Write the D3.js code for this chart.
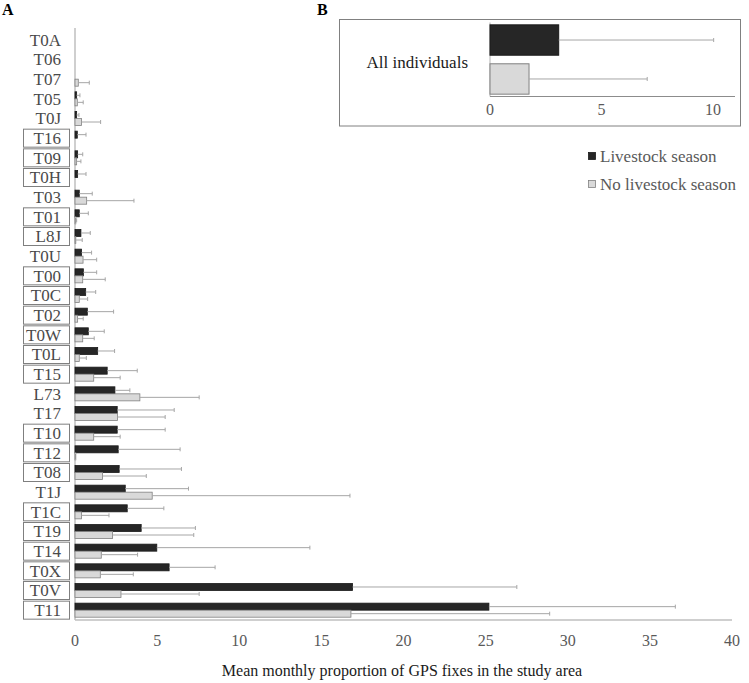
<!DOCTYPE html>
<html>
<head>
<meta charset="utf-8">
<script src="https://cdn.jsdelivr.net/npm/d3@7"></script>
<style>
  body { margin: 0; background: #fff; }
  svg { display: block; font-family: "Liberation Serif", "Times New Roman", serif; }
</style>
</head>
<body>
<svg id="chart" width="749" height="683"></svg>
<script>
// individuals, top to bottom
const ids = ['T0A','T06','T07','T05','T0J','T16','T09','T0H','T03','T01','L8J','T0U','T00','T0C','T02',
  'T0W','T0L','T15','L73','T17','T10','T12','T08','T1J','T1C','T19','T14','T0X','T0V','T11'];
const boxed = ['T16','T09','T0H','T01','L8J','T00','T0C','T02','T0W','T0L','T15','T10','T12','T08',
  'T1C','T19','T14','T0X','T0V','T11'];
const livestock = [0,0,0,0.1,0.1,0.14,0.16,0.16,0.26,0.26,0.36,0.4,0.51,0.65,0.75,
  0.81,1.38,1.96,2.43,2.57,2.57,2.63,2.69,3.06,3.18,4.03,4.98,5.73,16.9,25.2];
const livestockSD = [0,0,0,0.2,0.14,0.53,0.31,0.51,0.79,0.55,0.57,0.61,0.81,0.61,1.6,
  0.97,1.03,1.83,0.91,3.47,2.92,3.77,3.79,3.85,2.23,3.3,9.32,2.8,10.0,11.35];
const noLivestock = [0,0,0.2,0.14,0.4,0,0.1,0,0.71,0.05,0.05,0.49,0.47,0.26,0.16,
  0.47,0.26,1.14,3.95,2.59,1.14,0.05,1.68,4.7,0.4,2.29,1.6,1.54,2.8,16.8];
const noLivestockSD = [0,0,0.67,0.36,1.16,0,0.26,0,2.88,0.05,0.39,0.83,1.37,0.51,0.34,
  0.7,0.43,1.61,3.61,2.9,1.61,0,2.66,12.04,1.67,4.94,2.21,2.01,4.76,12.1];
const xTicks = [0,5,10,15,20,25,30,35,40];

// panel B
const allMeans = [3.08, 1.75];
const allSD = [6.95, 5.3];
const insetTicks = [0,5,10];

const seriesKeys = ['Livestock season', 'No livestock season'];
const fills = ['#262626', '#d9d9d9'];
const strokes = ['#1a1a1a', '#808080'];
const errColor = '#a6a6a6';
const axisColor = '#bfbfbf';

const svg = d3.select('#chart');

const rows = ids.map((id, i) => ({
  id,
  vals: [
    { k: seriesKeys[0], v: livestock[i], sd: livestockSD[i] },
    { k: seriesKeys[1], v: noLivestock[i], sd: noLivestockSD[i] }
  ]
}));

// ---- panel A ----
const x = d3.scaleLinear().domain([0, 40]).range([75, 732]);
const y = d3.scaleBand().domain(ids).range([30, 620]);
const ySub = d3.scaleBand().domain(seriesKeys).range([0, y.bandwidth()]).paddingOuter(0.4);

svg.append('line')
  .attr('x1', x(0)).attr('x2', x(0)).attr('y1', 28).attr('y2', 620)
  .attr('stroke', axisColor).attr('stroke-width', 1.5);
svg.append('line')
  .attr('x1', x(0)).attr('x2', x(40)).attr('y1', 620).attr('y2', 620)
  .attr('stroke', axisColor).attr('stroke-width', 1.5);

const groups = svg.selectAll('g.row')
  .data(rows)
  .join('g')
  .attr('class', 'row')
  .attr('transform', d => `translate(0,${y(d.id)})`);

groups.selectAll('rect.bar')
  .data(d => d.vals.filter(v => v.v > 0))
  .join('rect')
  .attr('class', 'bar')
  .attr('x', x(0))
  .attr('y', d => ySub(d.k))
  .attr('width', d => x(d.v) - x(0))
  .attr('height', ySub.bandwidth())
  .attr('fill', d => fills[seriesKeys.indexOf(d.k)])
  .attr('stroke', d => strokes[seriesKeys.indexOf(d.k)])
  .attr('stroke-width', 0.8);

const errs = groups.selectAll('g.err')
  .data(d => d.vals.filter(v => v.sd > 0))
  .join('g')
  .attr('class', 'err')
  .attr('transform', d => `translate(0,${ySub(d.k) + ySub.bandwidth() / 2})`);
errs.append('line')
  .attr('x1', d => x(d.v)).attr('x2', d => x(d.v + d.sd))
  .attr('stroke', errColor).attr('stroke-width', 1);
errs.append('line')
  .attr('x1', d => x(d.v + d.sd)).attr('x2', d => x(d.v + d.sd))
  .attr('y1', -2).attr('y2', 2)
  .attr('stroke', errColor).attr('stroke-width', 1);

// category labels, some boxed
groups.filter(d => boxed.includes(d.id))
  .append('rect')
  .attr('x', 23.5).attr('y', y.bandwidth() / 2 - 9)
  .attr('width', 46).attr('height', 18)
  .attr('fill', 'none').attr('stroke', '#7f7f7f').attr('stroke-width', 1);
groups.append('text')
  .attr('x', 61).attr('y', y.bandwidth() / 2)
  .attr('dy', '0.35em')
  .attr('text-anchor', 'end')
  .attr('font-size', 17)
  .attr('fill', '#4a4a4a')
  .text(d => d.id);

svg.selectAll('text.xtick')
  .data(xTicks)
  .join('text')
  .attr('class', 'xtick')
  .attr('x', d => x(d)).attr('y', 640).attr('dy', '0.35em')
  .attr('text-anchor', 'middle')
  .attr('font-size', 16).attr('fill', '#595959')
  .text(d => d);

svg.append('text')
  .attr('x', 402).attr('y', 670).attr('dy', '0.35em')
  .attr('text-anchor', 'middle')
  .attr('font-size', 16).attr('fill', '#1a1a1a')
  .text('Mean monthly proportion of GPS fixes in the study area');

// legend
const legend = svg.selectAll('g.legend')
  .data(seriesKeys)
  .join('g')
  .attr('class', 'legend')
  .attr('transform', (d, i) => `translate(588,${156 + i * 28})`);
legend.append('rect')
  .attr('x', 0.5).attr('y', -3.5).attr('width', 7).attr('height', 7)
  .attr('fill', (d, i) => fills[i]).attr('stroke', (d, i) => strokes[i]).attr('stroke-width', 0.8);
legend.append('text')
  .attr('x', 12).attr('y', 0).attr('dy', '0.35em')
  .attr('font-size', 17).attr('fill', '#595959')
  .text(d => d);

// ---- panel B ----
svg.append('rect')
  .attr('x', 339.5).attr('y', 19.5).attr('width', 401).attr('height', 106.5)
  .attr('fill', 'none').attr('stroke', '#808080').attr('stroke-width', 1);

const xi = d3.scaleLinear().domain([0, 10]).range([490, 713]);
const yi = d3.scaleBand().domain(seriesKeys).range([22.5, 96.5]).paddingInner(0.22).paddingOuter(0.06);

svg.append('line')
  .attr('x1', xi(0)).attr('x2', xi(0)).attr('y1', 22.5).attr('y2', 96.5)
  .attr('stroke', axisColor).attr('stroke-width', 1.2);
svg.append('line')
  .attr('x1', xi(0)).attr('x2', 735).attr('y1', 96.5).attr('y2', 96.5)
  .attr('stroke', '#8c8c8c').attr('stroke-width', 1);

const inset = seriesKeys.map((k, i) => ({ k, v: allMeans[i], sd: allSD[i], i }));
svg.selectAll('rect.ibar')
  .data(inset)
  .join('rect')
  .attr('class', 'ibar')
  .attr('x', xi(0)).attr('y', d => yi(d.k))
  .attr('width', d => xi(d.v) - xi(0)).attr('height', yi.bandwidth())
  .attr('fill', d => fills[d.i]).attr('stroke', d => strokes[d.i]).attr('stroke-width', 1);
const ierr = svg.selectAll('g.ierr')
  .data(inset)
  .join('g')
  .attr('class', 'ierr')
  .attr('transform', d => `translate(0,${yi(d.k) + yi.bandwidth() / 2})`);
ierr.append('line')
  .attr('x1', d => xi(d.v)).attr('x2', d => xi(d.v + d.sd))
  .attr('stroke', errColor).attr('stroke-width', 1);
ierr.append('line')
  .attr('x1', d => xi(d.v + d.sd)).attr('x2', d => xi(d.v + d.sd))
  .attr('y1', -2).attr('y2', 2)
  .attr('stroke', errColor).attr('stroke-width', 1);

svg.selectAll('text.itick')
  .data(insetTicks)
  .join('text')
  .attr('class', 'itick')
  .attr('x', d => xi(d)).attr('y', 109).attr('dy', '0.35em')
  .attr('text-anchor', 'middle')
  .attr('font-size', 16).attr('fill', '#595959')
  .text(d => d);

svg.append('text')
  .attr('x', 468).attr('y', 62).attr('dy', '0.35em')
  .attr('text-anchor', 'end')
  .attr('font-size', 17).attr('fill', '#1a1a1a')
  .text('All individuals');

// panel letters
svg.append('text').attr('x', 2).attr('y', 15)
  .attr('font-size', 16).attr('font-weight', 'bold').text('A');
svg.append('text').attr('x', 317).attr('y', 15)
  .attr('font-size', 16).attr('font-weight', 'bold').text('B');
</script>
</body>
</html>
